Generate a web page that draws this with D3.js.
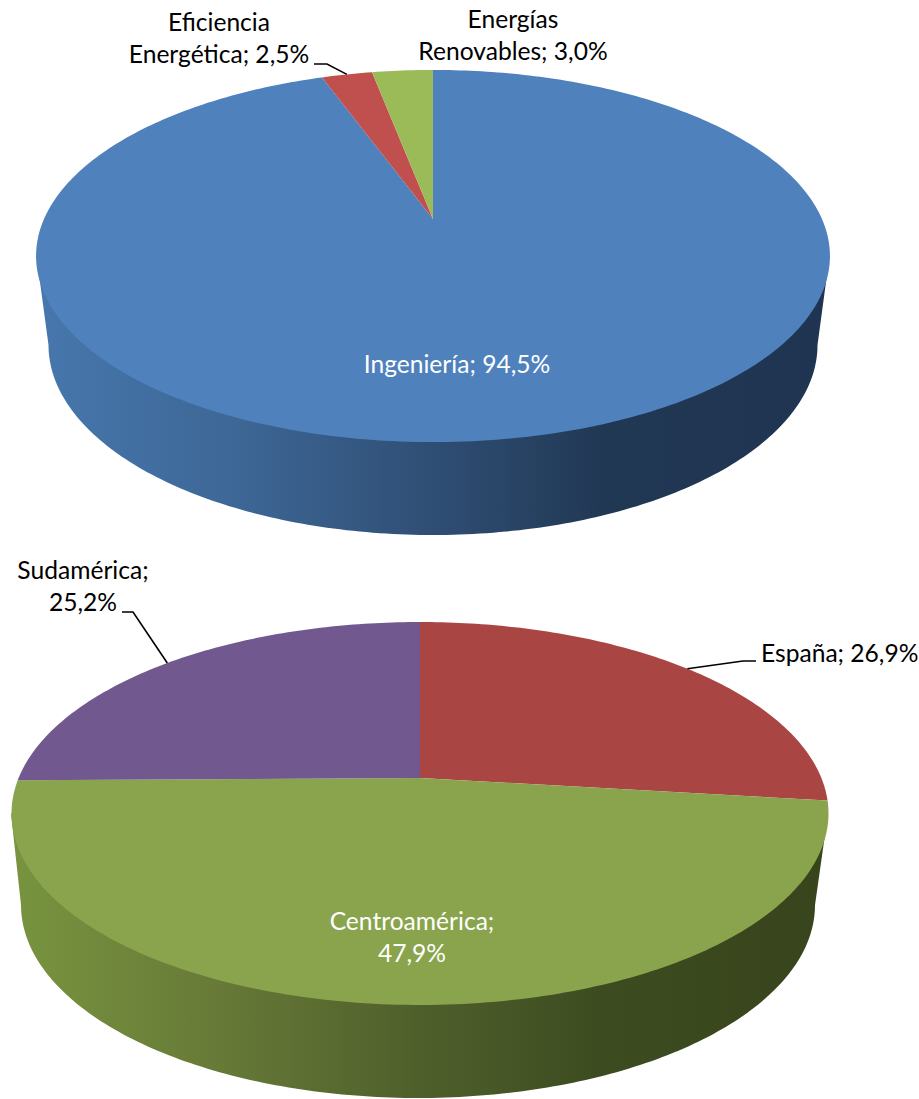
<!DOCTYPE html>
<html><head><meta charset="utf-8">
<script src="https://cdn.jsdelivr.net/npm/d3@7/dist/d3.min.js"></script>
<style>html,body{margin:0;padding:0;background:#fff}svg{display:block}text{font-family:Lato,"Open Sans",sans-serif;font-size:24.6px}</style>
</head><body>
<svg id="c" width="919" height="1099"></svg>
<script>
// Data
const topCategories = ["Ingeniería", "Eficiencia Energética", "Energías Renovables"];
const topValues = [94.5, 2.5, 3.0];
const topColors = ["#4f81bd", "#c0504d", "#9bbb59"];
const bottomCategories = ["España", "Centroamérica", "Sudamérica"];
const bottomValues = [26.9, 47.9, 25.2];
const bottomColors = ["#a94643", "#8aa44d", "#71588f"];

// Geometry of each 3D disc
const topGeom = {apexX:433, apexY:219, a:389, b:178.7, k:-0.199,
  rim:{cx:433, cy:256, rx:396.5, ry:186}, base:{cx:433, cy:345, rx:384.5, ry:190},
  wall:["#4777ad","#3d6796","#2f4e74","#213854","#1f3450"]};
const botGeom = {apexX:420, apexY:778, a:401.4, b:184.9, k:-0.1854,
  rim:{cx:419.5, cy:813.5, rx:408.5, ry:191.5}, base:{cx:418, cy:905, rx:397, ry:193},
  wall:["#78943f","#677a37","#4f5f2b","#3d4c20","#38441c"]};

const svg = d3.select("#c");
const defs = svg.append("defs");
const pie = d3.pie().sort(null).value(d => d);
const line = d3.line();

function project(g, th){
  const u = Math.sin(th), v = -Math.cos(th), w = 1 + g.k * v;
  return [g.apexX + g.a * u / w, g.apexY + g.b * v / w];
}
function drawDisc(id, g, values, colors){
  const grad = defs.append("linearGradient").attr("id", id).attr("gradientUnits","userSpaceOnUse")
    .attr("x1", g.rim.cx - g.rim.rx).attr("x2", g.rim.cx + g.rim.rx).attr("y1",0).attr("y2",0);
  g.wall.forEach((c,i) => grad.append("stop").attr("offset", [0,0.25,0.5,0.72,1][i]).attr("stop-color", c));
  const steps = d3.range(0, 181);
  const low = steps.map(i => {
    const t = Math.PI * i / 180;
    return [g.base.cx - g.base.rx * Math.cos(t), g.base.cy + g.base.ry * Math.sin(t)];
  });
  const wallPts = [[g.rim.cx - g.rim.rx, g.rim.cy], ...low, [g.rim.cx + g.rim.rx, g.rim.cy]];
  svg.append("path").attr("d", line(wallPts) + "Z").attr("fill", `url(#${id})`);
  const arcs = pie(values);
  svg.selectAll(null).data(arcs).enter().append("path")
    .attr("fill", (d,i) => colors[i])
    .attr("d", d => {
      const n = Math.max(4, Math.ceil((d.endAngle - d.startAngle) * 60));
      const pts = d3.range(n + 1).map(i => project(g, d.startAngle + (d.endAngle - d.startAngle) * i / n));
      return line([[g.apexX, g.apexY], ...pts]) + "Z";
    });
  return arcs;
}
function leader(g, arc, pts){
  const m = project(g, (arc.startAngle + arc.endAngle) / 2);
  svg.append("path").attr("fill","none").attr("stroke","#000").attr("stroke-width",1.6)
    .attr("d", line([...pts, m]));
}
function label(lines, x, y, fill, anchor){
  const t = svg.append("text").attr("fill", fill).attr("text-anchor", anchor || "middle");
  lines.forEach((s,i) => t.append("tspan").attr("x", x).attr("y", y + i * 32).text(s));
}
const pct = v => d3.format(".1f")(v).replace(".", ",") + "%";

const topArcs = drawDisc("wallTop", topGeom, topValues, topColors);
const botArcs = drawDisc("wallBot", botGeom, bottomValues, bottomColors);

leader(topGeom, topArcs[1], [[314,64],[327,64]]);
leader(botGeom, botArcs[0], [[756,661],[743,661]]);
leader(botGeom, botArcs[2], [[122,612],[133,612]]);

label([topCategories[0] + "; " + pct(topValues[0])], 457, 373, "#fff");
label(["Eficiencia", "Energética; " + pct(topValues[1])], 219, 31, "#000");
label(["Energías", "Renovables; " + pct(topValues[2])], 513, 28, "#000");
label([bottomCategories[0] + "; " + pct(bottomValues[0])], 761, 662, "#000", "start");
label([bottomCategories[1] + ";", pct(bottomValues[1])], 412, 930, "#fff");
label([bottomCategories[2] + ";", pct(bottomValues[2])], 83, 579, "#000");
</script>
</body></html>
